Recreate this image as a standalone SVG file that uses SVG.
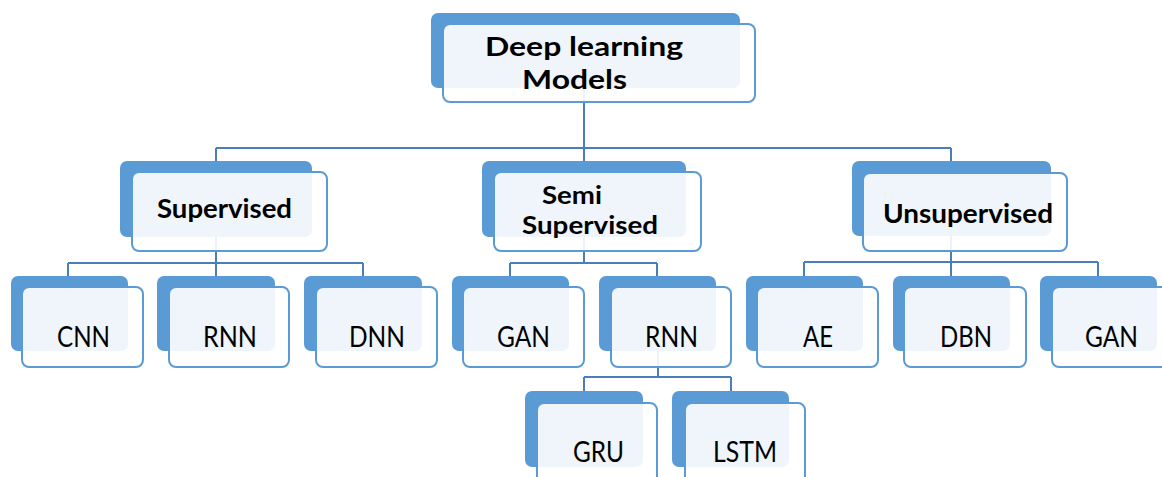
<svg xmlns="http://www.w3.org/2000/svg" width="1162" height="477" viewBox="0 0 1162 477">
  <style>
    .back { fill: #5b9bd5; }
    .front { fill: #ffffff; fill-opacity: 0.9; stroke: #5b9bd5; stroke-width: 2; }
    .link { fill: none; stroke: #4a7ebb; stroke-width: 2; }
    .t0 { font-family: Lato, "Open Sans", sans-serif; font-weight: bold; font-size: 27.4px; fill: #000; }
    .t1 { font-family: Lato, "Open Sans", sans-serif; font-weight: bold; font-size: 26px; fill: #000; }
    .t1s { font-family: Lato, "Open Sans", sans-serif; font-weight: bold; font-size: 24.8px; fill: #000; }
    .t2 { font-family: Lato, "Open Sans", sans-serif; font-size: 28px; fill: #000; text-anchor: middle; }
  </style>
  <rect width="1162" height="477" fill="#ffffff"/>

  <!-- connectors sit beneath the boxes -->
  <g id="connectors">
    <path class="link" d="M584,60 V148 M216,148 H951 M216,148 V165 M584,148 V165 M951,148 V165"/>
    <path class="link" d="M216,230 V263 M68,263 H363 M68,263 V280 M216,263 V280 M363,263 V280"/>
    <path class="link" d="M584,230 V263 M510,263 H657 M510,263 V280 M657,263 V280"/>
    <path class="link" d="M951,230 V262 M804,262 H1098 M804,262 V280 M951,262 V280 M1098,262 V280"/>
    <path class="link" d="M658,340 V377 M584,377 H731 M584,377 V395 M731,377 V395"/>
  </g>

  <g id="root">
    <rect class="back" x="431" y="13" width="309" height="75" rx="7"/>
    <rect class="front" x="443" y="24" width="312" height="78" rx="7"/>
    <text class="t0"><tspan x="485" y="56" textLength="198" lengthAdjust="spacingAndGlyphs">Deep learning</tspan><tspan x="522" y="89" textLength="105" lengthAdjust="spacingAndGlyphs">Models</tspan></text>
  </g>

  <g id="supervised">
    <rect class="back" x="120" y="161" width="192" height="76" rx="7"/>
    <rect class="front" x="132" y="172" width="195" height="79" rx="7"/>
    <text class="t1" x="157" y="218" textLength="135" lengthAdjust="spacingAndGlyphs">Supervised</text>
  </g>

  <g id="semi-supervised">
    <rect class="back" x="482" y="161" width="204" height="76" rx="7"/>
    <rect class="front" x="494" y="172" width="207" height="79" rx="7"/>
    <text class="t1s"><tspan x="542" y="204" textLength="60" lengthAdjust="spacingAndGlyphs">Semi</tspan><tspan x="522" y="234" textLength="136" lengthAdjust="spacingAndGlyphs">Supervised</tspan></text>
  </g>

  <g id="unsupervised">
    <rect class="back" x="852" y="161" width="199" height="75" rx="7"/>
    <rect class="front" x="863" y="173" width="204" height="78" rx="7"/>
    <text class="t1" x="883" y="223" textLength="170" lengthAdjust="spacingAndGlyphs">Unsupervised</text>
  </g>

  <g id="cnn">
    <rect class="back" x="11" y="276" width="117" height="75" rx="7"/>
    <rect class="front" x="22" y="287" width="121" height="80" rx="7"/>
    <text class="t2" x="83.5" y="347" textLength="53" lengthAdjust="spacingAndGlyphs">CNN</text>
  </g>

  <g id="rnn-supervised">
    <rect class="back" x="157" y="276" width="118" height="75" rx="7"/>
    <rect class="front" x="169" y="287" width="120" height="80" rx="7"/>
    <text class="t2" x="230" y="347" textLength="54" lengthAdjust="spacingAndGlyphs">RNN</text>
  </g>

  <g id="dnn">
    <rect class="back" x="304" y="276" width="118" height="75" rx="7"/>
    <rect class="front" x="316" y="287" width="121" height="80" rx="7"/>
    <text class="t2" x="377" y="347" textLength="56" lengthAdjust="spacingAndGlyphs">DNN</text>
  </g>

  <g id="gan-semi">
    <rect class="back" x="452" y="276" width="117" height="75" rx="7"/>
    <rect class="front" x="463" y="287" width="121" height="80" rx="7"/>
    <text class="t2" x="523.5" y="347" textLength="53" lengthAdjust="spacingAndGlyphs">GAN</text>
  </g>

  <g id="rnn-semi">
    <rect class="back" x="599" y="276" width="117" height="75" rx="7"/>
    <rect class="front" x="611" y="287" width="120" height="80" rx="7"/>
    <text class="t2" x="671.5" y="347" textLength="53" lengthAdjust="spacingAndGlyphs">RNN</text>
  </g>

  <g id="ae">
    <rect class="back" x="746" y="276" width="117" height="75" rx="7"/>
    <rect class="front" x="757" y="287" width="121" height="80" rx="7"/>
    <text class="t2" x="818" y="347" textLength="30" lengthAdjust="spacingAndGlyphs">AE</text>
  </g>

  <g id="dbn">
    <rect class="back" x="893" y="276" width="117" height="75" rx="7"/>
    <rect class="front" x="904" y="287" width="122" height="80" rx="7"/>
    <text class="t2" x="966" y="347" textLength="52" lengthAdjust="spacingAndGlyphs">DBN</text>
  </g>

  <g id="gan-unsupervised">
    <rect class="back" x="1040" y="276" width="117" height="75" rx="7"/>
    <rect class="front" x="1052" y="287" width="121" height="80" rx="7"/>
    <text class="t2" x="1111.5" y="347" textLength="53" lengthAdjust="spacingAndGlyphs">GAN</text>
  </g>

  <g id="gru">
    <rect class="back" x="525" y="391" width="118" height="76" rx="7"/>
    <rect class="front" x="537" y="403" width="120" height="80" rx="7"/>
    <text class="t2" x="598.5" y="462" textLength="51" lengthAdjust="spacingAndGlyphs">GRU</text>
  </g>

  <g id="lstm">
    <rect class="back" x="672" y="391" width="117" height="76" rx="7"/>
    <rect class="front" x="685" y="403" width="120" height="80" rx="7"/>
    <text class="t2" x="745" y="462" textLength="64" lengthAdjust="spacingAndGlyphs">LSTM</text>
  </g>
</svg>
